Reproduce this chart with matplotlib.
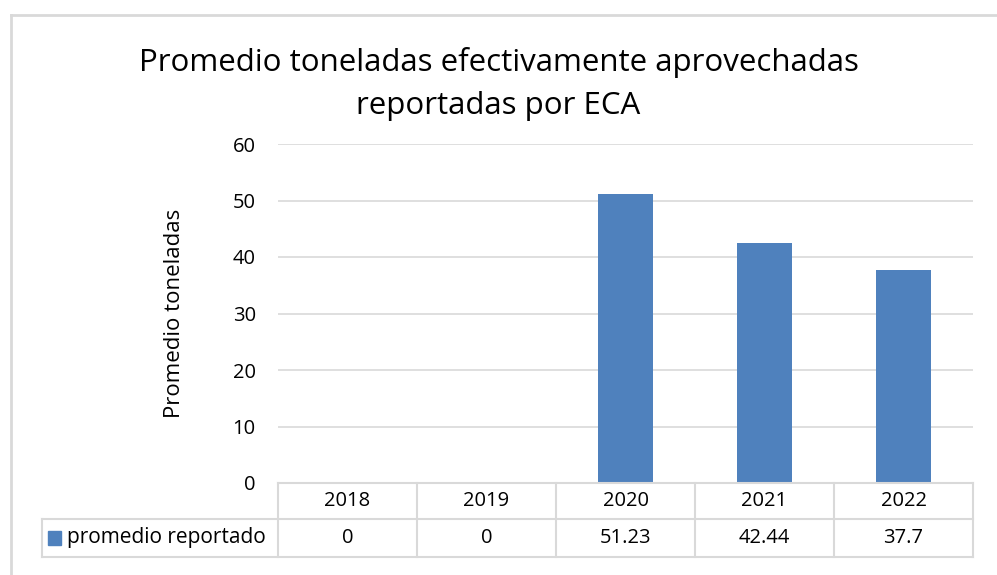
import matplotlib.pyplot as plt
from matplotlib.patches import Rectangle
from matplotlib.lines import Line2D

years = ['2018', '2019', '2020', '2021', '2022']
promedio = [0, 0, 51.23, 42.44, 37.7]
promedio_labels = ['0', '0', '51.23', '42.44', '37.7']
serie = 'promedio reportado'
titulo = 'Promedio toneladas efectivamente aprovechadas\nreportadas por ECA'
y_label = 'Promedio toneladas'

W, H = 997, 575
bar_color = '#4F81BD'
grid_color = '#D9D9D9'
plt.rcParams['font.family'] = ['Open Sans', 'DejaVu Sans']

fig = plt.figure(figsize=(W / 100, H / 100), dpi=100)

def fx(px):
    return px / W

def fy(py):
    return 1 - py / H

# chart border (open to the right, like the clipped Excel frame)
fig.add_artist(Line2D([fx(11), fx(997)], [fy(15), fy(15)], color=grid_color, lw=2))
fig.add_artist(Line2D([fx(11), fx(11)], [fy(15), fy(575)], color=grid_color, lw=2))

left, right, top, bottom = 278, 973, 144, 483
ax = fig.add_axes([fx(left), fy(bottom), fx(right - left), (bottom - top) / H])

x = range(len(years))
ax.bar(x, promedio, width=0.4, color=bar_color, zorder=3)
ax.set_xlim(-0.5, len(years) - 0.5)
ax.set_ylim(0, 60)
ax.set_yticks(range(0, 61, 10))
ax.yaxis.grid(True, color=grid_color, lw=1.2)
ax.set_xticks([])
ax.tick_params(axis='y', length=0, labelsize=14.5, pad=16)
for s in ax.spines.values():
    s.set_visible(False)
ax.set_ylabel(y_label, fontsize=16, labelpad=34)

fig.text(0.5, fy(84), titulo, ha='center', va='center', fontsize=22.5,
         linespacing=1.55)

# data table
row1_top, row1_bot, row2_bot = 483, 519, 557
leg_left = 42
cw = (right - left) / len(years)
lk = dict(color=grid_color, lw=1.5)
fig.add_artist(Line2D([fx(left), fx(right)], [fy(row1_top)] * 2, **lk))
fig.add_artist(Line2D([fx(leg_left), fx(right)], [fy(row1_bot)] * 2, **lk))
fig.add_artist(Line2D([fx(leg_left), fx(right)], [fy(row2_bot)] * 2, **lk))
fig.add_artist(Line2D([fx(leg_left)] * 2, [fy(row1_bot), fy(row2_bot)], **lk))
for i in range(len(years) + 1):
    xx = left + i * cw
    fig.add_artist(Line2D([fx(xx)] * 2, [fy(row1_top), fy(row2_bot)], **lk))

for i, (yr, lab) in enumerate(zip(years, promedio_labels)):
    cx = fx(left + (i + 0.5) * cw)
    fig.text(cx, fy((row1_top + row1_bot) / 2), yr, ha='center', va='center', fontsize=14.5)
    fig.text(cx, fy((row1_bot + row2_bot) / 2), lab, ha='center', va='center', fontsize=14.5)

fig.add_artist(Rectangle((fx(48), fy(545)), fx(13), 14 / H, color=bar_color))
fig.text(fx(67), fy((row1_bot + row2_bot) / 2), serie, ha='left', va='center', fontsize=15)

fig.savefig('out.png', dpi=100)
